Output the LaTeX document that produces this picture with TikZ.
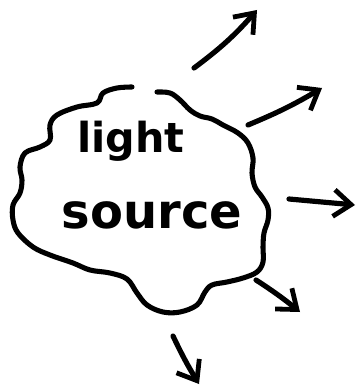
\documentclass[tikz,border=0pt]{standalone}
\usepackage{fontspec}
\newfontfamily\handfont{DejaVu Sans}
\usetikzlibrary{arrows.meta}

\tikzset{
  outline/.style={line width=3.8pt, line join=round, line cap=round},
  ray/.style={line width=3.9pt, line cap=round, -{Straight Barb[length=13pt,width=20pt,line width=3.6pt]}},
  scribble/.style={inner sep=0pt, font=\handfont\bfseries}
}

\begin{document}
\begin{tikzpicture}[x=0.75pt,y=0.75pt,yscale=-1,xscale=1]
        \useasboundingbox (0,0) rectangle (358,391);

        %Shape: Cloud outline (left open at the top)
        \draw [outline] plot [smooth, tension=0.6] coordinates {
          (132,87) (117,88) (103,93) (97,103) (77,107) (57,115) (50,125) (50,140)
          (40,147) (25,153) (20,167) (22,180) (20,193) (13,205) (13,220) (18,233)
          (33,247) (50,255) (73,263) (90,270) (110,273) (127,279) (137,293) (147,305)
          (163,312) (180,312) (197,305) (205,292) (212,285) (227,282) (243,278)
          (257,272) (263,262) (263,247) (264,233) (268,220) (268,208) (262,197)
          (255,187) (252,173) (253,158) (248,143) (238,133) (223,125) (212,119)
          (200,116) (190,110) (180,100) (170,93) (157,92) };

        % Text Node
        \node (light) [scribble, font=\handfont\bfseries\fontsize{31}{31}\selectfont] at (131,141) {light};
        % Text Node
        \node (source) [scribble, font=\handfont\bfseries\fontsize{36}{36}\selectfont] at (152,215) {source};

        % ray ends
        \coordinate (r1a) at (194,68);   \coordinate (r1b) at (257,10);
        \coordinate (r2a) at (248,125);  \coordinate (r2b) at (322,88);
        \coordinate (r3a) at (289,199);  \coordinate (r3b) at (355,205);
        \coordinate (r4a) at (256,280);  \coordinate (r4b) at (300,312);
        \coordinate (r5a) at (173,336);  \coordinate (r5b) at (199,384);

        %Arrows
        \draw [ray] (r1a) to[bend left=6] (r1b);
        \draw [ray] (r2a) to[bend left=4] (r2b);
        \draw [ray] (r3a) -- (r3b);
        \draw [ray] (r4a) to[bend right=3] (r4b);
        \draw [ray] (r5a) to[bend left=3] (r5b);

    \end{tikzpicture}
\end{document}
